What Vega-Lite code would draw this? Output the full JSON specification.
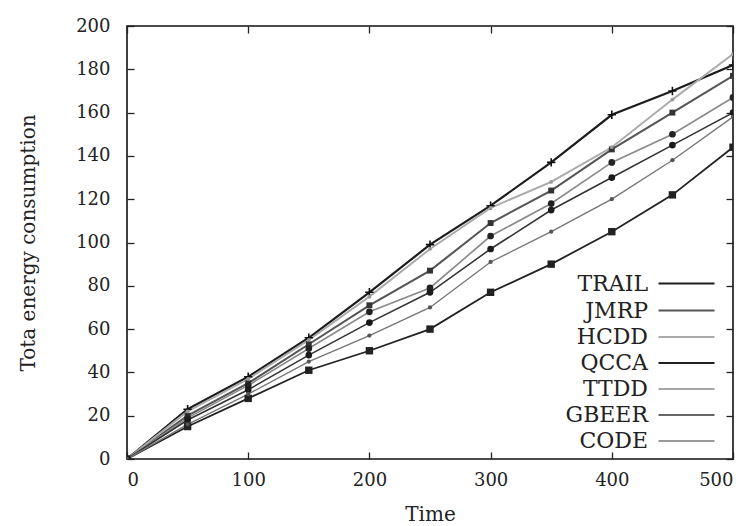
{
  "$schema": "https://vega.github.io/schema/vega-lite/v6.json",
  "width": 606,
  "height": 433,
  "autosize": {"type": "none"},
  "padding": {"left": 127, "top": 26, "right": 17, "bottom": 67},
  "background": "white",
  "config": {
    "font": "DejaVu Serif",
    "view": {"stroke": "#111", "strokeWidth": 1.6},
    "axis": {"grid": false, "domain": false, "ticks": true, "tickColor": "#222", "tickWidth": 1.3, "tickSize": 7, "offset": -7, "zindex": 2, "labelColor": "#222", "titleColor": "#222", "labelFontSize": 18, "titleFontSize": 20, "titleFontWeight": "normal", "labelFont": "DejaVu Serif", "titleFont": "DejaVu Serif"}
  },
  "data": {"values": [
    {"series": "TRAIL", "time": 0, "energy": 0}, {"series": "TRAIL", "time": 50, "energy": 23}, {"series": "TRAIL", "time": 100, "energy": 38}, {"series": "TRAIL", "time": 150, "energy": 56}, {"series": "TRAIL", "time": 200, "energy": 77}, {"series": "TRAIL", "time": 250, "energy": 99}, {"series": "TRAIL", "time": 300, "energy": 117}, {"series": "TRAIL", "time": 350, "energy": 137}, {"series": "TRAIL", "time": 400, "energy": 159}, {"series": "TRAIL", "time": 450, "energy": 170}, {"series": "TRAIL", "time": 500, "energy": 182},
    {"series": "JMRP", "time": 0, "energy": 0}, {"series": "JMRP", "time": 50, "energy": 20}, {"series": "JMRP", "time": 100, "energy": 35}, {"series": "JMRP", "time": 150, "energy": 53}, {"series": "JMRP", "time": 200, "energy": 71}, {"series": "JMRP", "time": 250, "energy": 87}, {"series": "JMRP", "time": 300, "energy": 109}, {"series": "JMRP", "time": 350, "energy": 124}, {"series": "JMRP", "time": 400, "energy": 143}, {"series": "JMRP", "time": 450, "energy": 160}, {"series": "JMRP", "time": 500, "energy": 177},
    {"series": "HCDD", "time": 0, "energy": 0}, {"series": "HCDD", "time": 50, "energy": 22}, {"series": "HCDD", "time": 100, "energy": 37}, {"series": "HCDD", "time": 150, "energy": 55}, {"series": "HCDD", "time": 200, "energy": 75}, {"series": "HCDD", "time": 250, "energy": 97}, {"series": "HCDD", "time": 300, "energy": 116}, {"series": "HCDD", "time": 350, "energy": 128}, {"series": "HCDD", "time": 400, "energy": 144}, {"series": "HCDD", "time": 450, "energy": 166}, {"series": "HCDD", "time": 500, "energy": 187},
    {"series": "QCCA", "time": 0, "energy": 0}, {"series": "QCCA", "time": 50, "energy": 15}, {"series": "QCCA", "time": 100, "energy": 28}, {"series": "QCCA", "time": 150, "energy": 41}, {"series": "QCCA", "time": 200, "energy": 50}, {"series": "QCCA", "time": 250, "energy": 60}, {"series": "QCCA", "time": 300, "energy": 77}, {"series": "QCCA", "time": 350, "energy": 90}, {"series": "QCCA", "time": 400, "energy": 105}, {"series": "QCCA", "time": 450, "energy": 122}, {"series": "QCCA", "time": 500, "energy": 144},
    {"series": "TTDD", "time": 0, "energy": 0}, {"series": "TTDD", "time": 50, "energy": 19}, {"series": "TTDD", "time": 100, "energy": 34}, {"series": "TTDD", "time": 150, "energy": 51}, {"series": "TTDD", "time": 200, "energy": 68}, {"series": "TTDD", "time": 250, "energy": 79}, {"series": "TTDD", "time": 300, "energy": 103}, {"series": "TTDD", "time": 350, "energy": 118}, {"series": "TTDD", "time": 400, "energy": 137}, {"series": "TTDD", "time": 450, "energy": 150}, {"series": "TTDD", "time": 500, "energy": 167},
    {"series": "GBEER", "time": 0, "energy": 0}, {"series": "GBEER", "time": 50, "energy": 18}, {"series": "GBEER", "time": 100, "energy": 32}, {"series": "GBEER", "time": 150, "energy": 48}, {"series": "GBEER", "time": 200, "energy": 63}, {"series": "GBEER", "time": 250, "energy": 77}, {"series": "GBEER", "time": 300, "energy": 97}, {"series": "GBEER", "time": 350, "energy": 115}, {"series": "GBEER", "time": 400, "energy": 130}, {"series": "GBEER", "time": 450, "energy": 145}, {"series": "GBEER", "time": 500, "energy": 160},
    {"series": "CODE", "time": 0, "energy": 0}, {"series": "CODE", "time": 50, "energy": 16}, {"series": "CODE", "time": 100, "energy": 30}, {"series": "CODE", "time": 150, "energy": 45}, {"series": "CODE", "time": 200, "energy": 57}, {"series": "CODE", "time": 250, "energy": 70}, {"series": "CODE", "time": 300, "energy": 91}, {"series": "CODE", "time": 350, "energy": 105}, {"series": "CODE", "time": 400, "energy": 120}, {"series": "CODE", "time": 450, "energy": 138}, {"series": "CODE", "time": 500, "energy": 158}
  ]},
  "encoding": {
    "x": {"field": "time", "type": "quantitative", "scale": {"domain": [0, 500], "nice": false}, "axis": null},
    "y": {"field": "energy", "type": "quantitative", "scale": {"domain": [0, 200], "nice": false}, "axis": null}
  },
  "layer": [
    {
      "mark": {"type": "line", "clip": true},
      "encoding": {
        "x": {"field": "time", "type": "quantitative", "scale": {"domain": [0, 500], "nice": false}, "axis": {"orient": "bottom", "title": "Time", "values": [0, 100, 200, 300, 400, 500], "labelPadding": 12, "titlePadding": 15}},
        "y": {"field": "energy", "type": "quantitative", "scale": {"domain": [0, 200], "nice": false}, "axis": {"orient": "left", "title": "Tota energy consumption", "values": [0, 20, 40, 60, 80, 100, 120, 140, 160, 180, 200], "labelPadding": 17, "titlePadding": 37}},
        "color": {"field": "series", "type": "nominal", "scale": {"domain": ["TRAIL", "JMRP", "HCDD", "QCCA", "TTDD", "GBEER", "CODE"], "range": ["#1c1c1c", "#555555", "#aaaaaa", "#222222", "#8a8a8a", "#333333", "#777777"]},
          "legend": {"orient": "none", "legendX": 548, "legendY": 246, "title": null, "symbolType": "M-2.8,0H2.8", "symbolSize": 400, "labelAlign": "right", "labelOffset": -50, "labelFontSize": 22, "labelColor": "#222", "labelFont": "DejaVu Serif", "rowPadding": 4, "padding": 0}},
        "strokeWidth": {"field": "series", "type": "nominal", "scale": {"domain": ["TRAIL", "JMRP", "HCDD", "QCCA", "TTDD", "GBEER", "CODE"], "range": [2.2, 1.4, 1, 2.6, 1.2, 1.8, 1]}}
      }
    },
    {
      "transform": [{"filter": "datum.series === 'TRAIL'"}],
      "mark": {"type": "point", "shape": "M-1,0L1,0M0,-1L0,1", "filled": false, "stroke": "#111", "strokeWidth": 1.6, "size": 70, "opacity": 1, "clip": true},
      "encoding": {
        "x": {"field": "time", "type": "quantitative", "axis": {"orient": "top", "labels": false, "title": null, "values": [0, 100, 200, 300, 400, 500]}},
        "y": {"field": "energy", "type": "quantitative", "axis": {"orient": "right", "labels": false, "title": null, "values": [0, 20, 40, 60, 80, 100, 120, 140, 160, 180, 200]}}
      }
    },
    {
      "transform": [{"filter": "datum.series === 'JMRP'"}],
      "mark": {"type": "point", "shape": "square", "filled": true, "color": "#333", "size": 35, "opacity": 1, "clip": true}
    },
    {
      "transform": [{"filter": "datum.series === 'HCDD'"}],
      "mark": {"type": "point", "shape": "circle", "filled": true, "color": "#999", "size": 14, "opacity": 1, "clip": true}
    },
    {
      "transform": [{"filter": "datum.series === 'QCCA'"}],
      "mark": {"type": "point", "shape": "square", "filled": true, "color": "#222", "size": 55, "opacity": 1, "clip": true}
    },
    {
      "transform": [{"filter": "datum.series === 'TTDD'"}],
      "mark": {"type": "point", "shape": "circle", "filled": true, "color": "#222", "size": 45, "opacity": 1, "clip": true}
    },
    {
      "transform": [{"filter": "datum.series === 'GBEER'"}],
      "mark": {"type": "point", "shape": "circle", "filled": true, "color": "#1a1a1a", "size": 45, "opacity": 1, "clip": true}
    },
    {
      "transform": [{"filter": "datum.series === 'CODE'"}],
      "mark": {"type": "point", "shape": "circle", "filled": true, "color": "#555", "size": 18, "opacity": 1, "clip": true}
    }
  ]
}
